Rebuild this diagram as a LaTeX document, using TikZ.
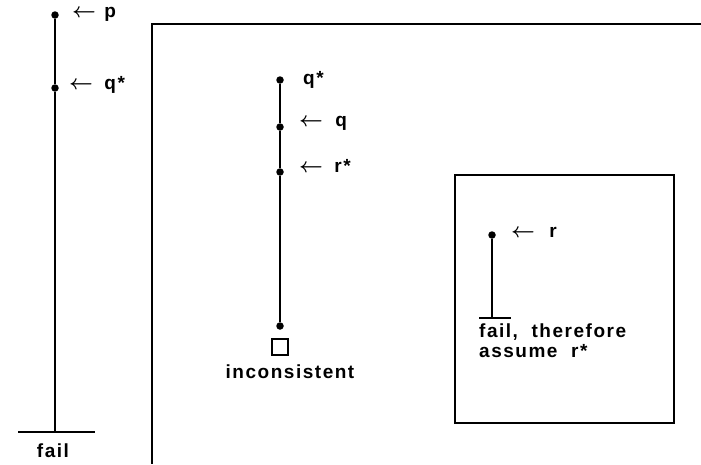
\documentclass[tikz,border=0pt]{standalone}
\usepackage{fontspec}
\newfontfamily\lblfont{Liberation Sans}[LetterSpace=8]
\usetikzlibrary{positioning}

\begin{document}
\begin{tikzpicture}[
    x=1pt, y=-1pt,
    dot/.style={circle, fill, inner sep=0pt, minimum size=7.5pt},
    arr/.style={inner sep=0pt, font=\fontsize{21}{21}\selectfont\boldmath},
    txt/.style={inner sep=0pt, font=\lblfont\bfseries\fontsize{19}{20}\selectfont},
    lbl/.style={txt, text height=12pt, text depth=4pt},
    rule/.style={line width=1.8pt},
]
\useasboundingbox (0,0) rectangle (701,464);

% frames
\coordinate (outTR) at (701,24);
\coordinate (outBL) at (152,464);
\draw[rule] (outTR) -| (outBL);
\coordinate (boxTL) at (455,175);
\coordinate (boxBR) at (674,423);
\draw[rule] (boxTL) rectangle (boxBR);

% left branch
\node[dot] (p) at (55,15) {};
\node[dot] (qs) at (55,88) {};
\coordinate (fail) at (55,432);
\coordinate (failL) at (18,432);
\coordinate (failR) at (95,432);
\draw[rule] (p) -- (qs) -- (fail);
\draw[line width=1.4pt] (failL) -- (failR);
\node[arr, right=13pt of p, yshift=2pt] (pArr) {$\leftarrow$};
\node[lbl, right=8pt of pArr] (pLbl) {p};
\node[arr, right=10pt of qs, yshift=3pt] (qsArr) {$\leftarrow$};
\node[lbl, right=11pt of qsArr] (qsLbl) {q*};
\node[txt] (failLbl) at (53,451) {fail};

% middle branch
\node[dot] (mqs) at (280,80) {};
\node[dot] (mq) at (280,127) {};
\node[dot] (mrs) at (280,172) {};
\node[dot] (mend) at (280,326) {};
\draw[rule] (mqs) -- (mq) -- (mrs) -- (mend);
\node[lbl, right=19pt of mqs] (mqsLbl) {q*};
\node[arr, right=15pt of mq, yshift=5pt] (mqArr) {$\leftarrow$};
\node[lbl, right=12pt of mqArr] (mqLbl) {q};
\node[arr, right=15pt of mrs, yshift=4pt] (mrsArr) {$\leftarrow$};
\node[lbl, right=11pt of mrsArr] (mrsLbl) {r*};
\node[draw, line width=1.6pt, minimum size=16pt, inner sep=0pt, below=8pt of mend] (incons) {};
\node[txt] (inconsLbl) at (290,372) {inconsistent};

% inner box
\node[dot] (r) at (492,235) {};
\coordinate (rfail) at (492,318);
\coordinate (rfailL) at (479,318);
\coordinate (rfailR) at (511,318);
\draw[rule] (r) -- (rfail);
\draw[rule] (rfailL) -- (rfailR);
\node[arr, right=15pt of r, yshift=2pt] (rArr) {$\leftarrow$};
\node[lbl, right=14pt of rArr] (rLbl) {r};
\node[txt, align=left, anchor=north west] (assume) at (479,324) {fail,\ \ therefore\\assume\ \ r*};

\end{tikzpicture}
\end{document}
